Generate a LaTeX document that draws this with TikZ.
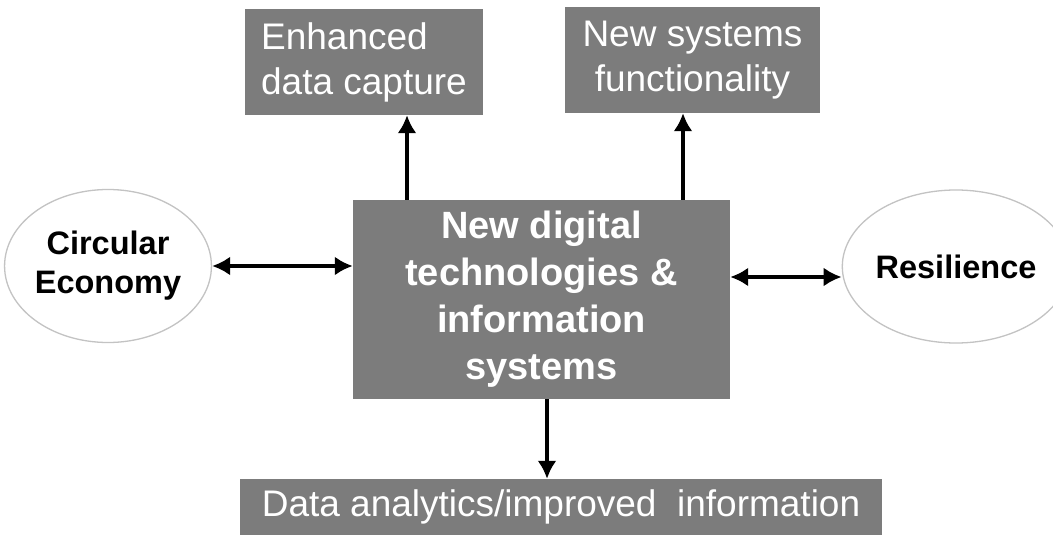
\documentclass[tikz,border=0pt]{standalone}
\usepackage{fontspec}
\setmainfont{Liberation Sans}
\usetikzlibrary{arrows.meta,shapes.geometric}
\definecolor{boxgray}{RGB}{124,124,124}
\definecolor{rimgray}{RGB}{195,195,195}
\begin{document}
\begin{tikzpicture}[x=1pt,y=-1pt,
  graybox/.style={fill=boxgray,draw=none,text=white,inner sep=0pt,
    font=\fontsize{37}{45}\selectfont},
  corebox/.style={graybox,font=\fontsize{38}{47}\selectfont\bfseries,align=center},
  oval/.style={ellipse,draw=rimgray,line width=1.3pt,fill=white,inner sep=0pt,
    font=\fontsize{32.5}{39}\selectfont\bfseries,align=center},
  tip/.tip={Latex[length=18pt 0,width=19pt 0]},
  link/.style={line width=3.5pt,-tip},
  dlink/.style={line width=3.5pt,tip-tip}
]
\useasboundingbox[fill=white] (0,0) rectangle (1053,535);

% central block
\node[corebox,minimum width=377pt,minimum height=199pt] (core) at (541.5,299.5)
  {New digital\\technologies \&\\information\\systems};

% output boxes
\node[graybox,align=left,minimum width=238pt,minimum height=106pt] (capture) at (364,62)
  {Enhanced\\data capture};
\node[graybox,align=center,minimum width=255pt,minimum height=106pt] (func) at (692.5,60)
  {New systems\\functionality};
\node[graybox,minimum width=642pt,minimum height=56pt] (analytics) at (561,507)
  {Data analytics/improved\ \ information};

% linked themes
\node[oval,minimum width=197pt,minimum height=153pt] (circ) at (108,266)
  {Circular\\Economy};
\node[oval,minimum width=192pt,minimum height=153pt] (resil) at (956,266.5)
  {Resilience};

% connectors
\draw[link] (core.north -| 407,0) -- (capture.south -| 407,0);
\draw[link] (core.north -| 683,0) -- (func.south -| 683,0);
\draw[link] (core.south -| 547,0) -- (analytics.north -| 547,0);
\draw[dlink] (circ.east) -- (core.west |- circ.east);
\draw[dlink] (core.east |- 0,277) -- (resil.west |- 0,277);
\end{tikzpicture}
\end{document}
